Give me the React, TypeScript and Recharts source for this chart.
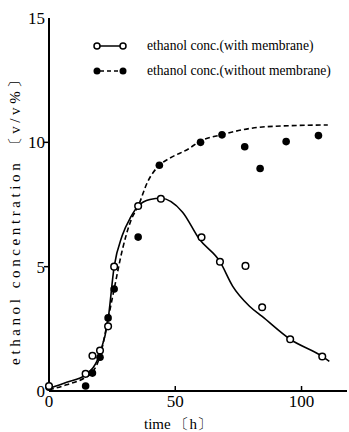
import {
  ComposedChart,
  Line,
  Scatter,
  XAxis,
  YAxis,
} from "recharts";

// measured points (time in h, ethanol conc. v/v%)
const timesWith = [0, 14.5, 17.2, 20.2, 23.4, 25.8, 35.3, 44.3, 60.4, 67.7, 77.8, 84.4, 95.5, 108.2];
const concWith = [0.2, 0.69, 1.42, 1.63, 2.6, 5.0, 7.44, 7.73, 6.18, 5.2, 5.03, 3.37, 2.08, 1.39];

const timesWithout = [0, 14.5, 17.2, 20.2, 23.4, 25.8, 35.3, 43.7, 60, 68.5, 77.5, 83.6, 93.9, 106.7];
const concWithout = [0.15, 0.2, 0.72, 1.36, 2.94, 4.1, 6.19, 9.08, 10.0, 10.3, 9.82, 8.95, 10.03, 10.27];

// fitted curves
const solidTimes = [0, 7, 14.5, 20.2, 23.4, 25.8, 29, 32.4, 35.3, 40, 44.3, 52.9, 59.5, 67.7, 72.7, 79.4, 84.4, 95.5, 108.2, 111];
const solidConc = [0.1, 0.35, 0.65, 1.52, 2.87, 5.0, 6.25, 7.0, 7.44, 7.7, 7.75, 7.19, 6.11, 5.2, 4.22, 3.41, 3.0, 2.08, 1.39, 1.19];

const dashedTimes = [0, 7, 14.5, 17.2, 20.2, 23.4, 25.8, 29.1, 32.4, 35.3, 39, 43.7, 47.6, 55.6, 59.5, 68.1, 86, 110.4];
const dashedConc = [0.05, 0.25, 0.55, 0.75, 1.4, 2.9, 4.1, 5.7, 6.85, 7.43, 8.4, 9.08, 9.35, 9.76, 10.03, 10.3, 10.63, 10.7];

const xTicks = [0, 50, 100];
const yTicks = [0, 5, 10, 15];

const pts = (ts: number[], cs: number[]) => ts.map((t, i) => ({ t, c: cs[i] }));

const withData = pts(timesWith, concWith);
const withoutData = pts(timesWithout, concWithout);
const solidData = pts(solidTimes, solidConc);
const dashedData = pts(dashedTimes, dashedConc);

const FONT = "Liberation Serif, serif";
const PLOT_LEFT = 49;
const PLOT_BOTTOM = 391;

const OpenDot = (p: any) => (
  <circle cx={p.cx} cy={p.cy} r={3.3} fill="#fff" stroke="#000" strokeWidth={1.5} />
);
const FilledDot = (p: any) => <circle cx={p.cx} cy={p.cy} r={3.8} fill="#000" />;

const XTick = (p: any) => {
  const { x, payload } = p;
  return (
    <g>
      {payload.value !== 0 && (
        <line x1={x} y1={PLOT_BOTTOM - 1} x2={x} y2={PLOT_BOTTOM - 5} stroke="#000" strokeWidth={1.5} />
      )}
      <text x={x} y={PLOT_BOTTOM + 16} textAnchor="middle" fontFamily={FONT} fontSize={17} fill="#000">
        {payload.value}
      </text>
    </g>
  );
};

const YTick = (p: any) => {
  const { y, payload } = p;
  return (
    <g>
      {payload.value !== 0 && payload.value !== 15 && (
        <line x1={PLOT_LEFT - 5} y1={y} x2={PLOT_LEFT} y2={y} stroke="#000" strokeWidth={1.5} />
      )}
      <text x={PLOT_LEFT - 4} y={y + 6} textAnchor="end" fontFamily={FONT} fontSize={17} fill="#000">
        {payload.value}
      </text>
    </g>
  );
};

const XLabel = () => (
  <text x={178} y={429} textAnchor="middle" fontFamily={FONT} fontSize={15} fill="#000">
    time 〔h〕
  </text>
);

const YLabel = () => {
  const cx = 15;
  const cy = 217;
  return (
    <text
      x={cx}
      y={cy}
      transform={`rotate(-90 ${cx} ${cy})`}
      textAnchor="middle"
      dominantBaseline="central"
      fontFamily={FONT}
      fontSize={15}
      style={{ letterSpacing: "3.6px" }}
      fill="#000"
    >
      ethanol concentration 〔v/v%〕
    </text>
  );
};

const LegendBox = () => (
  <div
    style={{
      position: "absolute",
      left: 92,
      top: 33,
      fontFamily: FONT,
      fontSize: 13.6,
      color: "#000",
      whiteSpace: "nowrap",
    }}
  >
    <div style={{ display: "flex", alignItems: "center", height: 25 }}>
      <svg width={36} height={10} style={{ marginRight: 19 }}>
        <line x1={8} y1={5} x2={31} y2={5} stroke="#000" strokeWidth={1.5} />
        <circle cx={5} cy={5} r={3} fill="#fff" stroke="#000" strokeWidth={1.5} />
        <circle cx={31} cy={5} r={3} fill="#fff" stroke="#000" strokeWidth={1.5} />
      </svg>
      <span>ethanol conc.(with membrane)</span>
    </div>
    <div style={{ display: "flex", alignItems: "center", height: 25 }}>
      <svg width={36} height={10} style={{ marginRight: 19 }}>
        <line x1={8} y1={5} x2={31} y2={5} stroke="#000" strokeWidth={1.5} strokeDasharray="4 3" />
        <circle cx={5} cy={5} r={3.5} fill="#000" />
        <circle cx={31} cy={5} r={3.5} fill="#000" />
      </svg>
      <span>ethanol conc.(without membrane)</span>
    </div>
  </div>
);

export default function App() {
  return (
    <div style={{ position: "absolute", left: 0, top: 0, width: 349, height: 432, background: "#fff" }}>
      <ComposedChart width={349} height={432} margin={{ top: 18, right: 2, bottom: 0, left: 0 }}>
        <XAxis
          xAxisId="b"
          type="number"
          dataKey="t"
          domain={[0, 118]}
          ticks={xTicks}
          tick={<XTick />}
          tickLine={false}
          axisLine={{ stroke: "#000", strokeWidth: 2 }}
          height={41}
          label={<XLabel />}
        />
        <XAxis
          xAxisId="top"
          orientation="top"
          type="number"
          dataKey="t"
          domain={[0, 118]}
          tick={false}
          tickLine={false}
          axisLine={{ stroke: "#000", strokeWidth: 2 }}
          height={0}
        />
        <YAxis
          yAxisId="l"
          type="number"
          domain={[0, 15]}
          ticks={yTicks}
          tick={<YTick />}
          tickLine={false}
          axisLine={{ stroke: "#000", strokeWidth: 2 }}
          width={PLOT_LEFT}
          label={<YLabel />}
        />
        <YAxis
          yAxisId="r"
          orientation="right"
          type="number"
          domain={[0, 15]}
          tick={false}
          tickLine={false}
          axisLine={{ stroke: "#000", strokeWidth: 2 }}
          width={0}
        />
        <Line
          xAxisId="b"
          yAxisId="l"
          data={dashedData}
          dataKey="c"
          type="monotone"
          stroke="#000"
          strokeWidth={1.6}
          strokeDasharray="5 3"
          dot={false}
          isAnimationActive={false}
        />
        <Line
          xAxisId="b"
          yAxisId="l"
          data={solidData}
          dataKey="c"
          type="monotone"
          stroke="#000"
          strokeWidth={1.6}
          dot={false}
          isAnimationActive={false}
        />
        <Scatter
          xAxisId="b"
          yAxisId="l"
          data={withoutData}
          dataKey="c"
          shape={<FilledDot />}
          isAnimationActive={false}
        />
        <Scatter
          xAxisId="b"
          yAxisId="l"
          data={withData}
          dataKey="c"
          shape={<OpenDot />}
          isAnimationActive={false}
        />
      </ComposedChart>
      <LegendBox />
    </div>
  );
}
